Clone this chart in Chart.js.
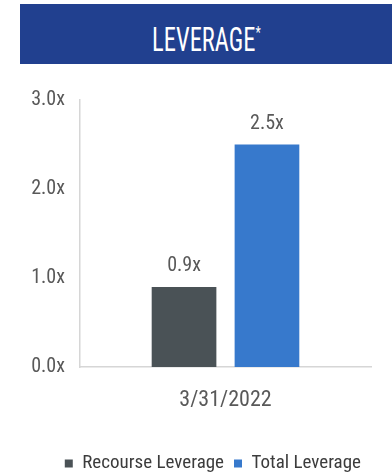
<!DOCTYPE html>
<html>
<head>
<meta charset="utf-8">
<script src="https://cdn.jsdelivr.net/npm/chart.js@4/dist/chart.umd.min.js"></script>
<style>
    html, body { margin: 0; padding: 0; background: #fff; }
    #wrap { position: relative; width: 392px; height: 473px; }
    #header {
        position: absolute; left: 20px; top: 4px; width: 372px; height: 60px;
        background: #21408f; z-index: 2;
        display: flex; align-items: center; justify-content: center;
    }
    #header span {
        color: #fff; font-family: "Roboto Condensed", sans-serif;
        font-size: 34px; line-height: 34px; display: inline-block;
        transform: scaleX(0.72); margin-top: 2px;
    }
    #header sup { font-size: 17px; vertical-align: 13px; }
    #chartBox { position: absolute; left: 0; top: 0; width: 392px; height: 473px; }
</style>
</head>
<body>
<div id="wrap">
    <div id="header"><span>LEVERAGE<sup>*</sup></span></div>
    <div id="chartBox"><canvas id="chartLeverage"></canvas></div>
</div>
<script>
const categories = ["3/31/2022"];
const recourseLeverage = [0.9];
const totalLeverage = [2.5];
const seriesNames = ["Recourse Leverage", "Total Leverage"];
const yTicks = [0, 1, 2, 3];

const palette = {
    recourse: "#4a5256",
    total: "#3779cc",
    tick: "#595959",
    legend: "#3c3c3c",
    axis: "#d6d6d6",
};

const fontFamily = '"Roboto Condensed", sans-serif';
const fmt = (v) => v.toFixed(1) + "x";

// value labels above each bar
const barValueLabels = {
    id: "barValueLabels",
    afterDatasetsDraw(chart) {
        const { ctx } = chart;
        ctx.save();
        ctx.font = "20px " + fontFamily;
        ctx.fillStyle = palette.tick;
        ctx.textAlign = "center";
        ctx.textBaseline = "alphabetic";
        chart.data.datasets.forEach((ds, i) => {
            chart.getDatasetMeta(i).data.forEach((bar, j) => {
                ctx.fillText(fmt(ds.data[j]), bar.x, bar.y - 16);
            });
        });
        ctx.restore();
    },
};

new Chart(document.getElementById("chartLeverage"), {
    type: "bar",
    data: {
        labels: categories,
        datasets: [
            {
                label: seriesNames[0],
                data: recourseLeverage,
                backgroundColor: palette.recourse,
                barPercentage: 0.78,
                categoryPercentage: 0.57,
            },
            {
                label: seriesNames[1],
                data: totalLeverage,
                backgroundColor: palette.total,
                barPercentage: 0.78,
                categoryPercentage: 0.57,
            },
        ],
    },
    options: {
        responsive: true,
        maintainAspectRatio: false,
        animation: false,
        layout: { padding: { top: 100, right: 21, left: 0, bottom: -10 } },
        plugins: {
            legend: {
                position: "bottom",
                align: "end",
                labels: {
                    boxWidth: 8,
                    boxHeight: 8,
                    padding: 10,
                    color: palette.legend,
                    font: { family: fontFamily, size: 19 },
                },
            },
            tooltip: { enabled: false },
        },
        scales: {
            x: {
                grid: { display: false, drawTicks: false },
                border: { display: true, color: palette.axis, width: 1.5 },
                ticks: { color: palette.tick, padding: 20, font: { family: fontFamily, size: 22 } },
                afterFit(scale) {
                    scale.height = 77;
                    scale.paddingLeft = 0;
                    scale.paddingRight = 0;
                },
            },
            y: {
                min: yTicks[0],
                max: yTicks[yTicks.length - 1],
                afterBuildTicks(axis) {
                    axis.ticks = yTicks.map((v) => ({ value: v }));
                },
                grid: { display: false, drawTicks: false },
                border: { display: true, color: palette.axis, width: 1.5 },
                ticks: {
                    color: palette.tick,
                    padding: 15,
                    font: { family: fontFamily, size: 20 },
                    callback: (v) => fmt(v),
                },
                afterFit(scale) {
                    scale.width = 80;
                },
            },
        },
    },
    plugins: [barValueLabels],
});
</script>
</body>
</html>
